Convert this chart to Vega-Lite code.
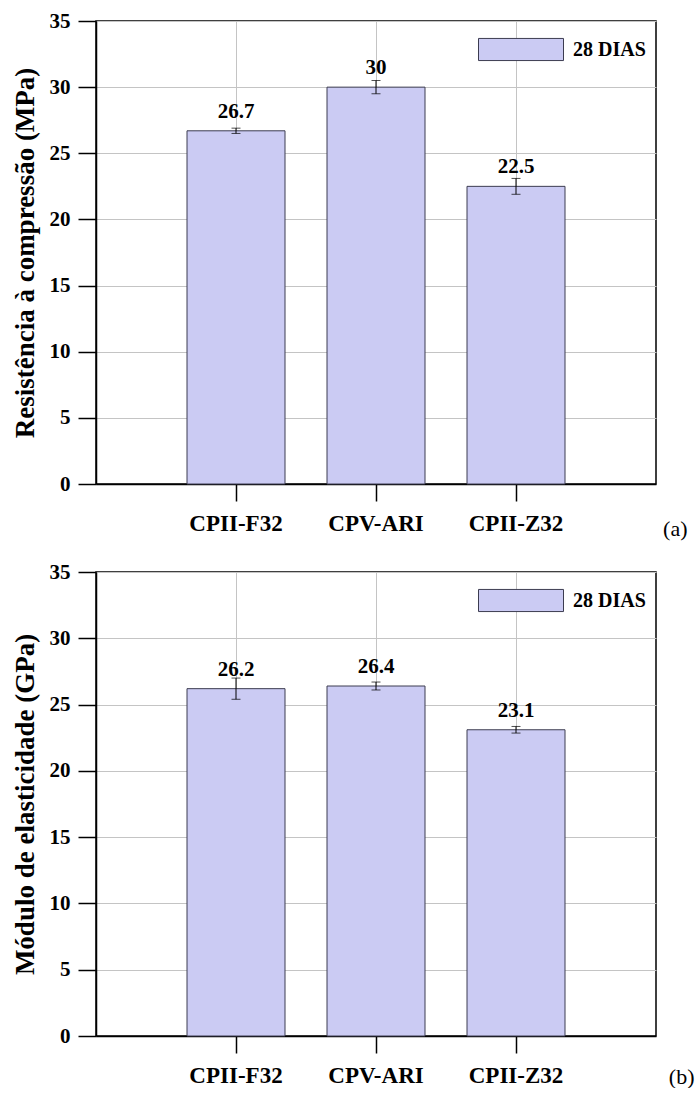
{
  "$schema": "https://vega.github.io/schema/vega-lite/v6.json",
  "background": "white",
  "padding": {"left": 10, "top": 5, "right": 0, "bottom": 0},
  "spacing": 16,
  "config": {
    "font": "Liberation Serif, Times New Roman, serif",
    "view": {"stroke": "black", "strokeWidth": 1.5},
    "text": {"font": "Liberation Serif, Times New Roman, serif"},
    "axis": {
      "labelFont": "Liberation Serif, Times New Roman, serif",
      "labelFontWeight": "bold",
      "labelColor": "black",
      "titleFont": "Liberation Serif, Times New Roman, serif",
      "titleFontWeight": "bold",
      "titleColor": "black",
      "domainColor": "black",
      "domainWidth": 1.5,
      "tickColor": "black",
      "tickWidth": 1.5,
      "grid": true,
      "gridColor": "#c4c4c4",
      "gridWidth": 1
    },
    "axisX": {
      "labelAngle": 0,
      "labelFontSize": 23,
      "labelPadding": 11,
      "tickSize": 17,
      "bandPosition": 0.5,
      "titleFontWeight": "normal",
      "titleFontSize": 22,
      "titleAlign": "right",
      "titleBaseline": "alphabetic"
    },
    "axisY": {
      "labelFontSize": 21,
      "labelPadding": 8,
      "tickSize": 18,
      "titleFontSize": 27,
      "titlePadding": 10
    },
    "legend": {
      "orient": "none",
      "title": null,
      "padding": 0,
      "symbolType": "M-1,-0.26H1V0.26H-1Z",
      "symbolSize": 7225,
      "symbolStrokeColor": "#3c3c50",
      "symbolStrokeWidth": 1,
      "symbolOpacity": 1,
      "labelFont": "Liberation Serif, Times New Roman, serif",
      "labelFontSize": 20,
      "labelFontWeight": "bold",
      "labelColor": "black",
      "labelOffset": 9
    }
  },
  "datasets": {
    "compressao": [
      {"cimento": "CPII-F32", "valor": 26.7, "erro": 0.2, "serie": "28 DIAS"},
      {"cimento": "CPV-ARI", "valor": 30, "erro": 0.5, "serie": "28 DIAS"},
      {"cimento": "CPII-Z32", "valor": 22.5, "erro": 0.6, "serie": "28 DIAS"}
    ],
    "elasticidade": [
      {"cimento": "CPII-F32", "valor": 26.2, "erro": 0.8, "serie": "28 DIAS"},
      {"cimento": "CPV-ARI", "valor": 26.4, "erro": 0.3, "serie": "28 DIAS"},
      {"cimento": "CPII-Z32", "valor": 23.1, "erro": 0.25, "serie": "28 DIAS"}
    ]
  },
  "vconcat": [
    {
      "width": 560,
      "height": 463,
      "data": {"name": "compressao"},
      "encoding": {
        "x": {
          "field": "cimento",
          "type": "nominal",
          "sort": null,
          "scale": {"paddingInner": 0.3, "paddingOuter": 0.65},
          "axis": {"title": "(a)", "titleX": 591, "titleY": 51}
        },
        "y": {
          "field": "valor",
          "type": "quantitative",
          "scale": {"domain": [0, 35], "nice": false},
          "axis": {"title": "Resistência à compressão (MPa)", "values": [0, 5, 10, 15, 20, 25, 30, 35]}
        }
      },
      "layer": [
        {
          "mark": {"type": "bar", "stroke": "#3c3c50", "strokeWidth": 1, "opacity": 1},
          "encoding": {
            "color": {
              "field": "serie",
              "type": "nominal",
              "scale": {"range": ["#cbcbf3"]},
              "legend": {"legendX": 382, "legendY": -14.5}
            }
          }
        },
        {
          "mark": {"type": "errorbar", "ticks": {"size": 9}, "color": "black", "thickness": 1},
          "encoding": {"yError": {"field": "erro"}}
        },
        {
          "mark": {"type": "text", "fontWeight": "bold", "fontSize": 21, "baseline": "alphabetic", "dy": -13, "color": "black"},
          "encoding": {"text": {"field": "valor", "type": "quantitative"}}
        }
      ]
    },
    {
      "width": 560,
      "height": 464,
      "data": {"name": "elasticidade"},
      "encoding": {
        "x": {
          "field": "cimento",
          "type": "nominal",
          "sort": null,
          "scale": {"paddingInner": 0.3, "paddingOuter": 0.65},
          "axis": {"title": "(b)", "titleX": 598, "titleY": 47}
        },
        "y": {
          "field": "valor",
          "type": "quantitative",
          "scale": {"domain": [0, 35], "nice": false},
          "axis": {"title": "Módulo de elasticidade (GPa)", "values": [0, 5, 10, 15, 20, 25, 30, 35]}
        }
      },
      "layer": [
        {
          "mark": {"type": "bar", "stroke": "#3c3c50", "strokeWidth": 1, "opacity": 1},
          "encoding": {
            "color": {
              "field": "serie",
              "type": "nominal",
              "scale": {"range": ["#cbcbf3"]},
              "legend": {"legendX": 382, "legendY": -14.5}
            }
          }
        },
        {
          "mark": {"type": "errorbar", "ticks": {"size": 9}, "color": "black", "thickness": 1},
          "encoding": {"yError": {"field": "erro"}}
        },
        {
          "mark": {"type": "text", "fontWeight": "bold", "fontSize": 21, "baseline": "alphabetic", "dy": -13, "color": "black"},
          "encoding": {"text": {"field": "valor", "type": "quantitative"}}
        }
      ]
    }
  ],
  "resolve": {"scale": {"color": "independent"}}
}
